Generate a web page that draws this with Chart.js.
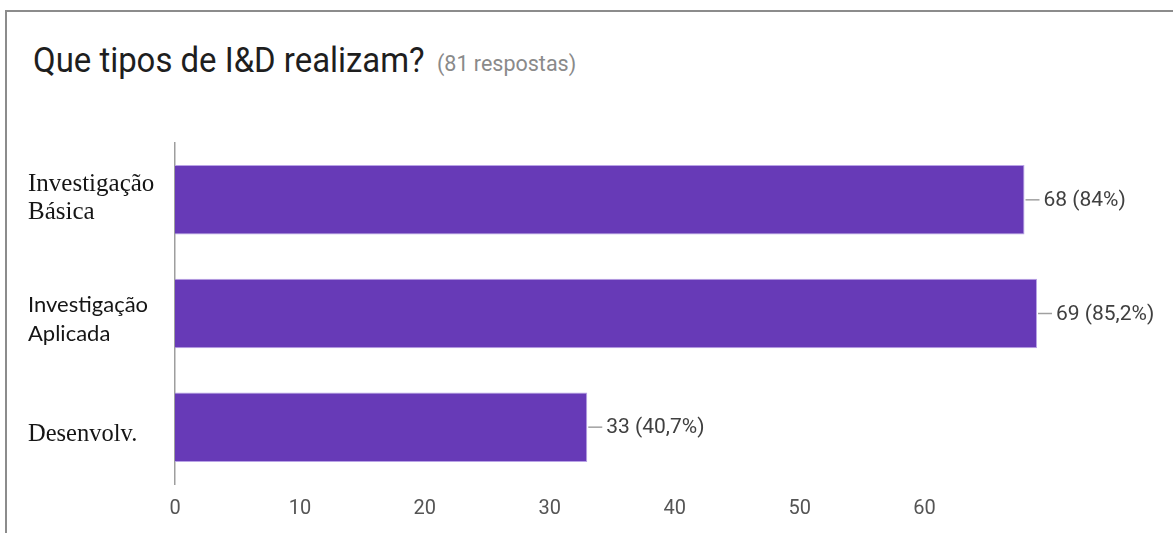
<!DOCTYPE html>
<html>
<head>
<meta charset="utf-8">
<script src="https://cdn.jsdelivr.net/npm/chart.js@4"></script>
<style>
  html, body { margin: 0; padding: 0; background: #fff; width: 1173px; height: 533px; overflow: hidden; }
  #frame { position: absolute; left: 5px; top: 10px; width: 1300px; height: 700px;
           border-top: 2px solid #8c8c8c; border-left: 2px solid #8c8c8c; }
  .t { position: absolute; white-space: nowrap; font-family: Roboto, sans-serif; }
  #main { left: 33px; top: 43px; font-size: 35px; line-height: 35px; color: #1e1e1e;
          transform: scaleX(0.94); transform-origin: 0 0; }
  #sub { left: 437px; top: 53px; font-size: 21.5px; line-height: 22px; color: #8a8a8a; }
  #c { position: absolute; left: 0; top: 0; }
</style>
</head>
<body>
<div id="frame"></div>
<div class="t" id="main">Que tipos de I&amp;D realizam?</div>
<div class="t" id="sub">(81 respostas)</div>
<canvas id="c" width="1173" height="533"></canvas>
<script>
// ---- data ----
const categories = [["Investigação", "Básica"], ["Investigação", "Aplicada"], ["Desenvolv."]];
const counts = [68, 69, 33];
const percentLabels = ["84%", "85,2%", "40,7%"];
const xTicks = [0, 10, 20, 30, 40, 50, 60];

// ---- styles ----
const labelStyles = [
  { font: "25px 'Liberation Serif', 'Times New Roman', serif", lh: 28, dy: -1 },
  { font: "22px Lato, 'Open Sans', sans-serif", lh: 29, dy: 6 },
  { font: "24.5px 'Liberation Serif', 'Times New Roman', serif", lh: 28, dy: 7 }
];

const categoryLabels = {
  id: 'categoryLabels',
  afterDraw(chart) {
    const ctx = chart.ctx;
    const yScale = chart.scales.y;
    ctx.save();
    ctx.fillStyle = '#151515';
    ctx.textAlign = 'left';
    ctx.textBaseline = 'middle';
    categories.forEach((lines, i) => {
      const st = labelStyles[i];
      const yc = yScale.getPixelForValue(i) + st.dy;
      ctx.font = st.font;
      lines.forEach((ln, j) => {
        ctx.fillText(ln, 28, yc + (j - (lines.length - 1) / 2) * st.lh);
      });
    });
    ctx.restore();
  }
};

const valueLabels = {
  id: 'valueLabels',
  afterDatasetsDraw(chart) {
    const ctx = chart.ctx;
    const meta = chart.getDatasetMeta(0);
    ctx.save();
    meta.data.forEach((bar, i) => {
      const x = bar.x, y = bar.y;
      ctx.strokeStyle = '#a0a0a0';
      ctx.lineWidth = 1.5;
      ctx.beginPath();
      ctx.moveTo(x + 1, y);
      ctx.lineTo(x + 15, y);
      ctx.stroke();
      ctx.fillStyle = '#404040';
      ctx.font = "21px Roboto, sans-serif";
      ctx.textAlign = 'left';
      ctx.textBaseline = 'middle';
      ctx.fillText(counts[i] + ' (' + percentLabels[i] + ')', x + 19, y + 1);
    });
    ctx.restore();
  }
};

new Chart(document.getElementById('c'), {
  type: 'bar',
  data: {
    labels: categories,
    datasets: [{
      data: counts,
      backgroundColor: '#673ab7',
      borderColor: '#b9a3e6',
      borderWidth: 1,
      barPercentage: 0.9,
      categoryPercentage: 0.68
    }]
  },
  options: {
    indexAxis: 'y',
    responsive: false,
    animation: false,
    events: [],
    layout: { padding: { left: 28, top: 143, right: 136, bottom: 0 } },
    plugins: { legend: { display: false }, tooltip: { enabled: false }, title: { display: false } },
    scales: {
      x: {
        min: 0,
        max: 69,
        afterBuildTicks(axis) { axis.ticks = xTicks.map(v => ({ value: v })); },
        afterFit(axis) { axis.height = 49; },
        grid: { display: false, drawTicks: false },
        border: { display: false },
        ticks: { padding: 13, color: '#555', font: { family: 'Roboto, sans-serif', size: 20 } }
      },
      y: {
        afterFit(axis) { axis.width = 147; },
        grid: { display: false, drawTicks: false },
        border: { display: true, color: '#9e9e9e', width: 1.5 },
        ticks: { display: false }
      }
    }
  },
  plugins: [valueLabels, categoryLabels]
});
</script>
</body>
</html>
